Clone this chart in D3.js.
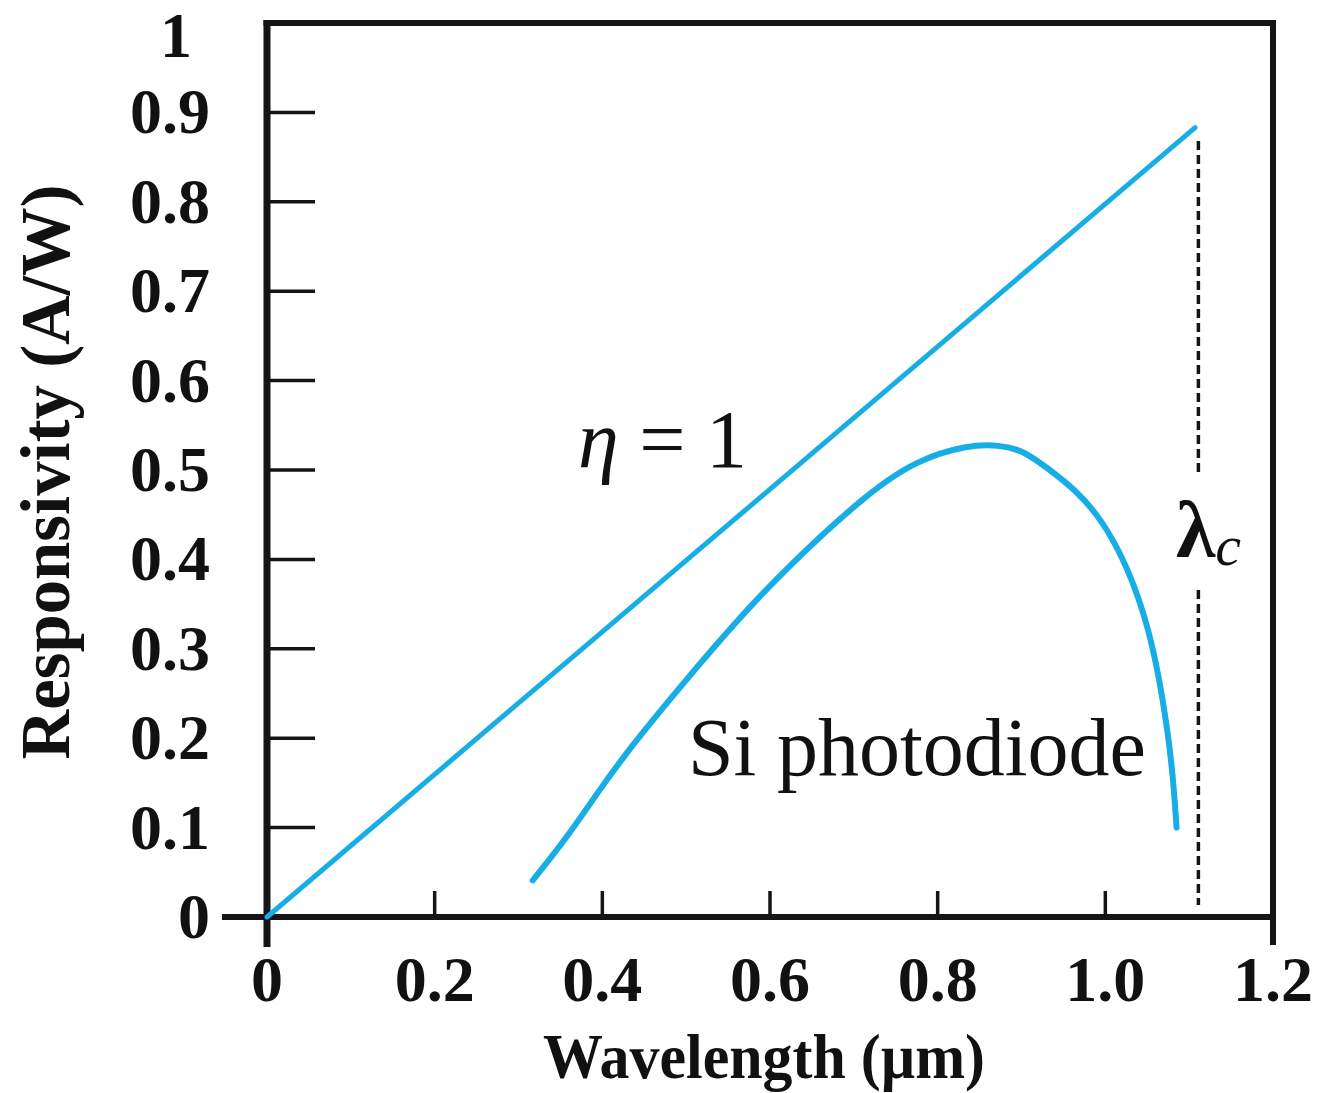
<!DOCTYPE html>
<html>
<head>
<meta charset="utf-8">
<script src="https://cdn.jsdelivr.net/npm/d3@7"></script>
<style>
  body { margin: 0; background: #fff; }
  text { font-family: "Liberation Serif", "Times New Roman", serif; fill: #111; }
</style>
</head>
<body>
<div id="chart_div"></div>
<script>
// ideal responsivity, eta = 1
var ideal_x = [0, 1.107];
var ideal_y = [0, 0.883];

// measured Si photodiode
var si_x = [0.317, 0.358, 0.397, 0.437, 0.496, 0.556, 0.620, 0.716, 0.775, 0.835,
            0.874, 0.902, 0.934, 0.964, 0.994, 1.026, 1.053, 1.069, 1.080, 1.085];
var si_y = [0.041, 0.089, 0.143, 0.194, 0.261, 0.327, 0.391, 0.474, 0.511, 0.528,
            0.528, 0.522, 0.500, 0.478, 0.447, 0.394, 0.321, 0.243, 0.168, 0.100];

// cutoff wavelength
var cutoff_x = 1.111;
var cutoff_top = 0.868;

var x_ticks = [0.2, 0.4, 0.6, 0.8, 1.0];
var x_labels = [0, 0.2, 0.4, 0.6, 0.8, 1.0, 1.2];
var x_label_text = ["0", "0.2", "0.4", "0.6", "0.8", "1.0", "1.2"];
var y_ticks = [0.1, 0.2, 0.3, 0.4, 0.5, 0.6, 0.7, 0.8, 0.9];
var y_labels = [0, 0.1, 0.2, 0.3, 0.4, 0.5, 0.6, 0.7, 0.8, 0.9, 1];

var chart_width = 1324;
var chart_height = 1093;
var blue = "#17aee6";
var ink = "#151515";

var chart = d3.select("#chart_div").append("svg")
    .attr("width", chart_width)
    .attr("height", chart_height);

var x = d3.scaleLinear().domain([0, 1.2]).range([267, 1273]);
var y = d3.scaleLinear().domain([0, 1]).range([917, 23]);

// frame
chart.append("line")
    .attr("x1", x(0)).attr("x2", x(0))
    .attr("y1", y(1) - 3).attr("y2", y(0) + 30)
    .attr("stroke", ink).attr("stroke-width", 7);
chart.append("line")
    .attr("x1", x(1.2)).attr("x2", x(1.2))
    .attr("y1", y(1) - 3).attr("y2", y(0) + 28)
    .attr("stroke", ink).attr("stroke-width", 6);
chart.append("line")
    .attr("x1", x(0) - 3.5).attr("x2", x(1.2) + 3)
    .attr("y1", y(1)).attr("y2", y(1))
    .attr("stroke", ink).attr("stroke-width", 6);
chart.append("line")
    .attr("x1", 222).attr("x2", x(1.2))
    .attr("y1", y(0)).attr("y2", y(0))
    .attr("stroke", ink).attr("stroke-width", 6);

// inward ticks
chart.selectAll(".ytick")
    .data(y_ticks)
    .enter().append("line")
    .attr("class", "ytick")
    .attr("x1", x(0)).attr("x2", x(0) + 48)
    .attr("y1", function(d) { return y(d); })
    .attr("y2", function(d) { return y(d); })
    .attr("stroke", ink).attr("stroke-width", 3.5);

chart.selectAll(".xtick")
    .data(x_ticks)
    .enter().append("line")
    .attr("class", "xtick")
    .attr("x1", function(d) { return x(d); })
    .attr("x2", function(d) { return x(d); })
    .attr("y1", y(0)).attr("y2", y(0) - 26)
    .attr("stroke", ink).attr("stroke-width", 3.5);

// tick labels
chart.selectAll(".ylab")
    .data(y_labels)
    .enter().append("text")
    .attr("class", "ylab")
    .attr("x", function(d) { return d == 1 ? 192 : 210; })
    .attr("y", function(d) { return d == 1 ? y(d) + 34 : y(d) + 21; })
    .attr("text-anchor", "end")
    .attr("font-weight", "bold")
    .attr("font-size", 64)
    .text(function(d) { return d == 0 || d == 1 ? String(d) : d.toFixed(1); });

chart.selectAll(".xlab")
    .data(x_labels)
    .enter().append("text")
    .attr("class", "xlab")
    .attr("x", function(d) { return x(d); })
    .attr("y", 1001)
    .attr("text-anchor", "middle")
    .attr("font-weight", "bold")
    .attr("font-size", 64)
    .text(function(d, i) { return x_label_text[i]; });

// axis titles
chart.append("text")
    .attr("transform", "translate(69,472) rotate(-90)")
    .attr("text-anchor", "middle")
    .attr("font-weight", "bold")
    .attr("font-size", 70)
    .attr("textLength", 575)
    .attr("lengthAdjust", "spacingAndGlyphs")
    .text("Responsivity (A/W)");

chart.append("text")
    .attr("x", 764)
    .attr("y", 1078)
    .attr("text-anchor", "middle")
    .attr("font-weight", "bold")
    .attr("font-size", 64)
    .attr("textLength", 442)
    .attr("lengthAdjust", "spacingAndGlyphs")
    .text("Wavelength (\u00b5m)");

// cutoff dashed line, broken around the label
chart.append("line")
    .attr("x1", x(cutoff_x)).attr("x2", x(cutoff_x))
    .attr("y1", y(cutoff_top)).attr("y2", 472)
    .attr("stroke", ink).attr("stroke-width", 3.5)
    .attr("stroke-dasharray", "9,5");
chart.append("line")
    .attr("x1", x(cutoff_x)).attr("x2", x(cutoff_x))
    .attr("y1", 590).attr("y2", y(0) - 12)
    .attr("stroke", ink).attr("stroke-width", 3.5)
    .attr("stroke-dasharray", "9,5");

var lc = chart.append("text")
    .attr("x", 1176)
    .attr("y", 557)
    .attr("font-size", 80);
lc.append("tspan").attr("font-weight", "bold").text("\u03bb");
lc.append("tspan").attr("font-style", "italic").attr("font-size", 58).attr("dy", 8).text("c");

// curves
var line = d3.line()
    .x(function(d) { return x(d[0]); })
    .y(function(d) { return y(d[1]); });

chart.append("path")
    .datum(d3.zip(ideal_x, ideal_y))
    .attr("d", line)
    .attr("fill", "none")
    .attr("stroke", blue)
    .attr("stroke-width", 5)
    .attr("stroke-linecap", "round");

chart.append("path")
    .datum(d3.zip(si_x, si_y))
    .attr("d", line.curve(d3.curveBasis))
    .attr("fill", "none")
    .attr("stroke", blue)
    .attr("stroke-width", 6)
    .attr("stroke-linecap", "round");

// annotations
var eta = chart.append("text")
    .attr("x", 578)
    .attr("y", 467)
    .attr("font-size", 82);
eta.append("tspan").attr("font-style", "italic").text("\u03b7");
eta.append("tspan").text(" = 1");

chart.append("text")
    .attr("x", 688)
    .attr("y", 775)
    .attr("font-size", 82)
    .text("Si photodiode");
</script>
</body>
</html>
